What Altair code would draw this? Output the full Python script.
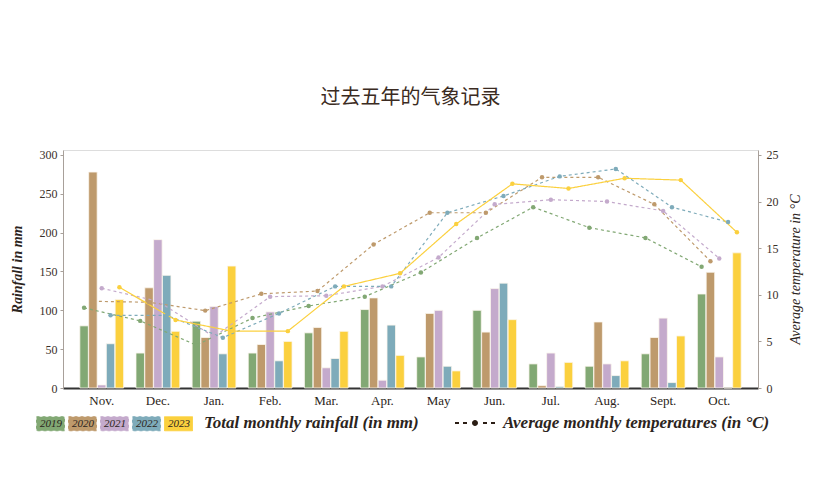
import altair as alt
import pandas as pd

months = ["Nov.", "Dec.", "Jan.", "Feb.", "Mar.", "Apr.", "May", "Jun.", "Jul.", "Aug.", "Sept.", "Oct."]
years = ["2019", "2020", "2021", "2022", "2023"]
colors = ["#82a874", "#be9a6c", "#c4aacc", "#7eabba", "#fbd03e"]

rain_2019 = [80, 45, 86, 45, 71, 101, 40, 100, 31, 28, 44, 121]
rain_2020 = [278, 129, 65, 56, 78, 116, 96, 72, 3, 85, 65, 149]
rain_2021 = [4, 191, 105, 98, 26, 10, 100, 128, 45, 31, 90, 40]
rain_2022 = [57, 145, 44, 35, 38, 81, 28, 135, 2, 16, 7, 0]
rain_2023 = [114, 73, 157, 60, 73, 42, 22, 88, 33, 35, 67, 174]

temp_2019 = [8.6, 7.2, 4.6, 7.5, 8.8, 9.8, 12.4, 16.1, 19.4, 17.2, 16.1, 13.0]
temp_2020 = [9.3, 9.2, 8.3, 10.1, 10.4, 15.4, 18.8, 18.8, 22.6, 22.6, 19.7, 13.6]
temp_2021 = [10.7, 9.3, 5.5, 9.8, 9.9, 10.9, 14.0, 19.7, 20.2, 20.0, 19.0, 13.9]
temp_2022 = [7.8, 7.8, 5.4, 8.0, 10.9, 10.9, 18.8, 20.6, 22.7, 23.5, 19.4, 17.8]
temp_2023 = [10.8, 7.3, 6.1, 6.1, 10.9, 12.3, 17.6, 21.9, 21.4, 22.5, 22.3, 16.7]

legend_items = ["Total monthly rainfall (in mm)", "Average monthly temperatures (in °C)"]

rains = [rain_2019, rain_2020, rain_2021, rain_2022, rain_2023]
temps = [temp_2019, temp_2020, temp_2021, temp_2022, temp_2023]
rows = []
for y, r, t in zip(years, rains, temps):
    for m, rv, tv in zip(months, r, t):
        rows.append({"month": m, "year": y, "rain": rv, "temp": tv})
df = pd.DataFrame(rows)
legend_df = pd.DataFrame({"item": legend_items})

SERIF = "Liberation Serif"
DARK = "#2b2420"

x_enc = alt.X("month:N", sort=months,
              scale=alt.Scale(paddingInner=0.22, paddingOuter=0.3),
              axis=alt.Axis(title=None, labelAngle=0, ticks=False, domainColor="#333333",
                            domainWidth=2, labelFont=SERIF, labelFontSize=13,
                            labelColor=DARK, labelPadding=6))
xoff_enc = alt.XOffset("year:N", sort=years, scale=alt.Scale(paddingInner=0.04))

color_scale = alt.Scale(domain=years, range=colors)
color_enc = alt.Color(
    "year:N",
    scale=color_scale,
    legend=alt.Legend(
        title=None, orient="none", legendX=-27, legendY=259, direction="horizontal",
        symbolType="M-1,-0.5H1V0.5H-1Z", symbolSize=784,
        symbolStrokeColor="#ece4d6", symbolStrokeWidth=1, symbolOpacity=1,
        labelOffset={"expr": "-25"}, labelFont=SERIF, labelFontStyle="italic", labelFontSize=11,
        labelColor=DARK, columnPadding={"expr": "-1"},
    ),
)
color_plain = alt.Color("year:N", scale=color_scale, legend=None)

y_rain = alt.Y("rain:Q", scale=alt.Scale(domain=[0, 306.4], nice=False),
               axis=alt.Axis(values=[0, 50, 100, 150, 200, 250, 300], grid=False,
                             title="Rainfall in mm", titleFont=SERIF, titleFontSize=14,
                             titleFontStyle="italic", titleFontWeight="bold", titleColor=DARK,
                             titlePadding=15, labelFont=SERIF, labelFontSize=12,
                             labelColor="#3a302a", domainColor="#a8a09a", tickColor="#a8a09a",
                             tickSize=3, labelPadding=3))

y_temp = alt.Y("temp:Q", scale=alt.Scale(domain=[0, 25.53], nice=False),
               axis=alt.Axis(orient="right", values=[0, 5, 10, 15, 20, 25], grid=False,
                             title="Average temperature in °C", titleFont=SERIF, titleFontSize=14,
                             titleFontStyle="italic", titleFontWeight="normal", titleColor=DARK,
                             titleAngle=270, titleBaseline="top", titlePadding=10,
                             labelFont=SERIF, labelFontSize=12,
                             labelColor="#3a302a", domainColor="#a8a09a", tickColor="#a8a09a",
                             tickSize=3, labelPadding=5))

base = alt.Chart(df)

bars = base.mark_bar(stroke="#fbf6ee", strokeWidth=0.8).encode(
    x=x_enc, xOffset=xoff_enc, y=y_rain, color=color_enc
)

lines = base.mark_line(strokeWidth=1.2).encode(
    x=x_enc, xOffset=xoff_enc, y=y_temp, color=color_plain,
    strokeDash=alt.StrokeDash("year:N", scale=alt.Scale(domain=years, range=[[3, 3], [3, 3], [3, 3], [3, 3], [1, 0]]), legend=None),
)

points = base.mark_circle(size=20, opacity=1).encode(
    x=x_enc, xOffset=xoff_enc, y=y_temp, color=color_plain
)

dash_path = ("M-1,-0.05H-0.8V0.05H-1Z M-0.6,-0.05H-0.4V0.05H-0.6Z "
             "M0.15,0A0.15,0.15 0 1,1 -0.15,0A0.15,0.15 0 1,1 0.15,0Z "
             "M0.4,-0.05H0.6V0.05H0.4Z M0.8,-0.05H1V0.05H0.8Z")

dummy = alt.Chart(legend_df).mark_point(filled=True, opacity=0, color="#2b1d14").encode(
    shape=alt.Shape("item:N", scale=alt.Scale(domain=legend_items, range=["M0,0Z", dash_path]),
                    legend=alt.Legend(
                        title=None, orient="none", legendX=93, legendY=253, direction="horizontal",
                        symbolSize=1600, symbolFillColor="#2b1d14", symbolStrokeWidth=0,
                        symbolOpacity=1, labelOffset=8, labelFont=SERIF, labelFontSize=17,
                        labelFontStyle="italic", labelFontWeight="bold", labelColor=DARK,
                        labelLimit=500, columnPadding=36,
                    ))
)

temp_layer = alt.layer(lines, points, dummy)

chart = alt.layer(bars, temp_layer).resolve_scale(y="independent").properties(
    width=695, height=238,
    title=alt.TitleParams("过去五年的气象记录", font="Noto Sans CJK SC", fontSize=20,
                          fontWeight="normal", color="#3b2b22", anchor="middle",
                          frame="group", offset=41),
    autosize=alt.AutoSizeParams(type="none"),
    padding={"left": 55, "top": 142, "right": 62, "bottom": 83},
).configure_view(stroke=None).configure(background="white")

chart.save("out.html", embed_options={"renderer": "svg", "actions": False})
